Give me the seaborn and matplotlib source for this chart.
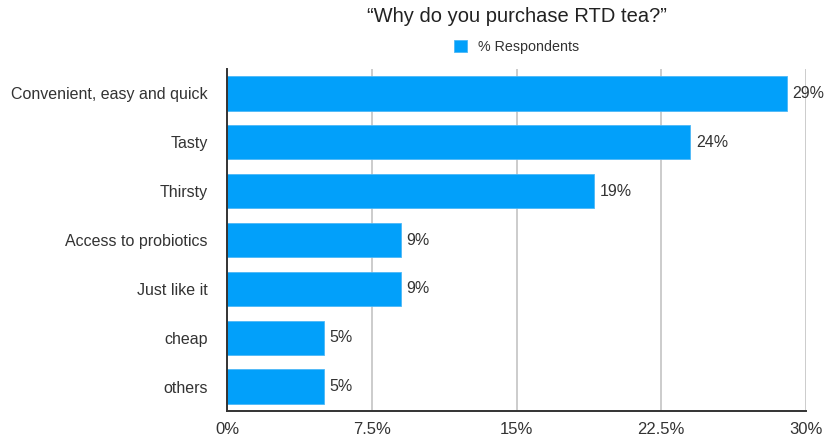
import matplotlib
matplotlib.use("Agg")
import matplotlib.pyplot as plt
import seaborn as sns
import pandas as pd

# Survey data
reasons = ["Convenient, easy and quick", "Tasty", "Thirsty", "Access to probiotics",
           "Just like it", "cheap", "others"]
respondents_pct = [29, 24, 19, 9, 9, 5, 5]
x_ticks = [0, 7.5, 15, 22.5, 30]
x_tick_labels = ["0%", "7.5%", "15%", "22.5%", "30%"]
title = "\u201cWhy do you purchase RTD tea?\u201d"
series_name = "% Respondents"

sns.set_theme(style="white")
plt.rcParams["font.family"] = ["Liberation Sans", "DejaVu Sans"]

df = pd.DataFrame({"reason": reasons, "pct": respondents_pct})

bar_color = "#02A0FA"
text_color = "#333333"

fig = plt.figure(figsize=(8.25, 4.4), dpi=100)
ax = fig.add_axes([227 / 825, 1 - 411 / 440, (806 - 227) / 825, (411 - 69) / 440])

sns.barplot(data=df, x="pct", y="reason", orient="h", color=bar_color,
            saturation=1, width=0.7, ax=ax, label=series_name, zorder=3,
            edgecolor="#4DB8F7", linewidth=0.6)

ax.set_xlim(0, 30)
ax.set_xticks(x_ticks)
ax.set_xticklabels(x_tick_labels)
ax.set_xlabel("")
ax.set_ylabel("")

ax.xaxis.grid(True, color="#c8c8c8", linewidth=1.3, zorder=0)
ax.yaxis.grid(False)
ax.set_axisbelow(True)

for side in ["top", "right"]:
    ax.spines[side].set_visible(False)
for side in ["left", "bottom"]:
    ax.spines[side].set_color("#333333")
    ax.spines[side].set_linewidth(1.4)
    ax.spines[side].set_zorder(4)

ax.tick_params(axis="x", length=0, pad=8, labelsize=12, labelcolor=text_color)
ax.tick_params(axis="y", length=0, pad=14, labelsize=11.5, labelcolor=text_color)

for container in ax.containers:
    ax.bar_label(container, labels=[f"{v:g}%" for v in respondents_pct],
                 padding=4, fontsize=11.5, color=text_color)

fig.text(516.5 / 825, 1 - 16 / 440, title, ha="center", va="center",
         fontsize=14.5, color="#222222")

handles, labels = ax.get_legend_handles_labels()
leg = ax.legend(handles, labels, loc="center", bbox_to_anchor=(516.5 / 825, 1 - 47 / 440),
                bbox_transform=fig.transFigure, frameon=False, fontsize=10.3,
                handlelength=0.9, handleheight=0.9, handletextpad=0.8,
                labelcolor=text_color)

fig.savefig("out.png", dpi=100)
